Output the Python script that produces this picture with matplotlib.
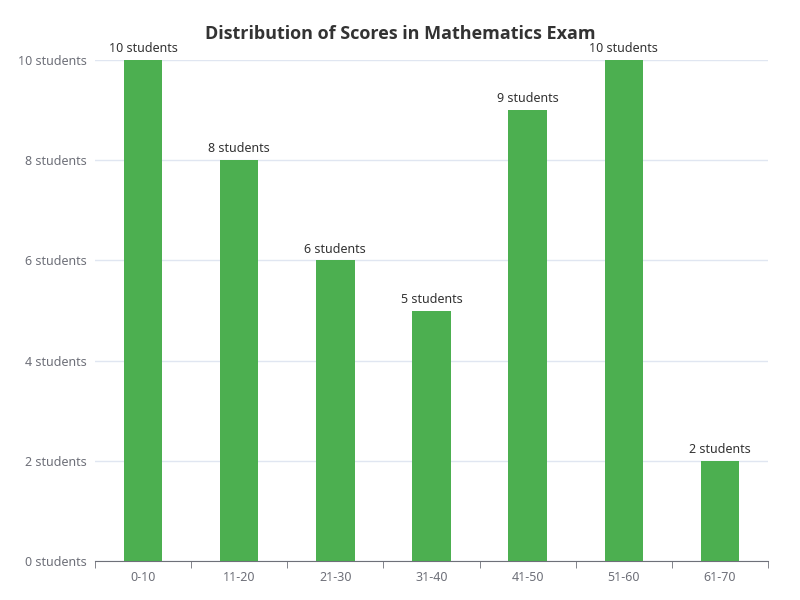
import numpy as np
import matplotlib
matplotlib.use("Agg")
from matplotlib import pyplot as plt

plt.rcParams['font.family'] = ['Noto Sans', 'DejaVu Sans']

categories = ['0-10', '11-20', '21-30', '31-40', '41-50', '51-60', '61-70']
counts = [10, 8, 6, 5, 9, 10, 2]
y_ticks = [0, 2, 4, 6, 8, 10]

fig = plt.figure(figsize=(8, 6), dpi=100)
ax = fig.add_axes([0.11875, 0.065, 0.84125, 0.835])

x = np.arange(len(categories))
ax.bar(x, counts, width=0.4, color='#4CAF50', zorder=3)
for xi, c in zip(x, counts):
    ax.annotate(f'{c} students', (xi, c), xytext=(0, 3.5), textcoords='offset points',
                ha='center', va='bottom', fontsize=9, color='#333333')

ax.set_xlim(-0.5, len(categories) - 0.5)
ax.set_ylim(0, 10)
ax.set_yticks(y_ticks)
ax.set_yticklabels([f'{v} students' for v in y_ticks])
ax.set_xticks(x)
ax.set_xticklabels(categories)
ax.set_xticks(np.arange(-0.5, len(categories)), minor=True)
ax.tick_params(axis='x', which='major', length=0, pad=7, labelsize=9, colors='#6E7079')
ax.tick_params(axis='x', which='minor', length=5, color='#6E7079')
ax.tick_params(axis='y', length=0, pad=6, labelsize=9, colors='#6E7079')

ax.grid(axis='y', color='#E0E6F1', linewidth=1, zorder=0)
for s in ['top', 'right', 'left']:
    ax.spines[s].set_visible(False)
ax.spines['bottom'].set_color('#6E7079')

fig.text(0.5, 0.943, 'Distribution of Scores in Mathematics Exam', ha='center', va='center',
         fontsize=13, fontweight='bold', color='#333333', family=['Open Sans', 'DejaVu Sans'])

fig.savefig('out.png', dpi=100)
